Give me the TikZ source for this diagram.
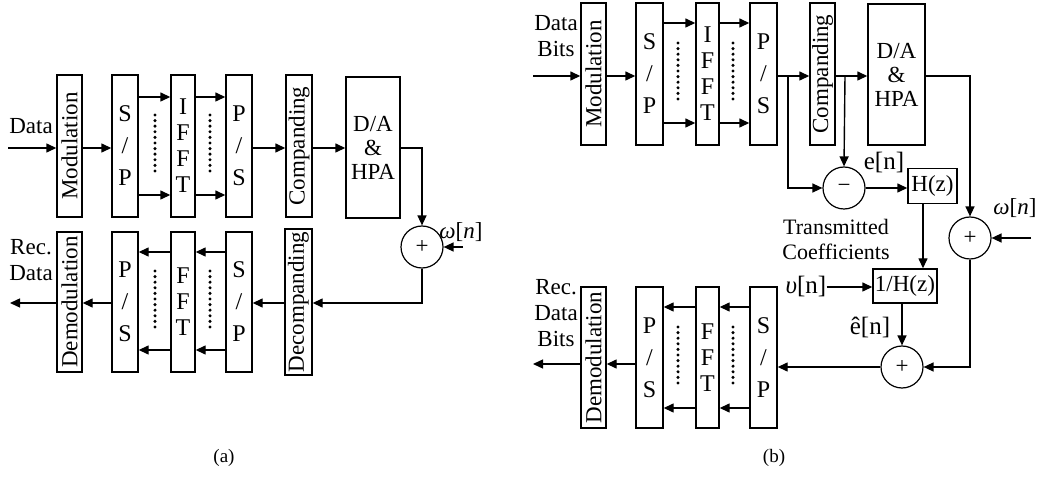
\documentclass[tikz,border=0pt]{standalone}
\usepackage{fontspec}
\setmainfont{Liberation Serif}
\usetikzlibrary{arrows.meta}
\begin{document}
\begin{tikzpicture}[x=1pt,y=-1pt,
  every node/.style={font=\fontsize{23}{26}\selectfont},
  blk/.style={draw,line width=1.4pt,inner sep=0pt,align=center},
  stk/.style={blk,font=\fontsize{24}{32}\selectfont},
  stk2/.style={blk,font=\fontsize{24}{26}\selectfont},
  sumc/.style={draw,circle,line width=1.2pt,minimum size=42pt,inner sep=0pt},
  lbl/.style={inner sep=0pt,align=center},
  arr/.style={line width=1.4pt,-{Triangle[length=10pt,width=9pt]}},
  ln/.style={line width=1.4pt}
]
\useasboundingbox (0,0) rectangle (1042,478);
% ================= panel (a) =================
\node[blk,minimum width=25pt,minimum height=142pt] (amod) at (69.5,146) {\rotatebox{90}{Modulation}};
\node[stk,minimum width=26pt,minimum height=142pt] (asp) at (125,146) {S\\/\\P};
\node[stk2,minimum width=24pt,minimum height=142pt] (aifft) at (183,146) {I\\F\\F\\T};
\node[stk,minimum width=26pt,minimum height=142pt] (aps) at (239,146) {P\\/\\S};
\node[blk,minimum width=26pt,minimum height=142pt] (acomp) at (299,146) {\rotatebox{90}{Companding}};
\node[blk,font=\fontsize{23}{24}\selectfont,minimum width=54pt,minimum height=141pt] (ada) at (373,147.5) {D/A\\\&\\HPA};
\node[sumc] (aplus) at (422,247) {+};
\node[blk,minimum width=27pt,minimum height=146pt] (adecomp) at (298.5,302) {\rotatebox{90}{Decompanding}};
\node[stk,minimum width=26pt,minimum height=140pt] (asp2) at (239,302) {S\\/\\P};
\node[stk2,minimum width=24pt,minimum height=140pt] (afft) at (183,302) {F\\F\\T};
\node[stk,minimum width=26pt,minimum height=140pt] (aps2) at (125,302) {P\\/\\S};
\node[blk,minimum width=25pt,minimum height=140pt] (ademod) at (69.5,302) {\rotatebox{90}{Demodulation}};
\node[lbl] (adata) at (31,126) {Data};
\node[lbl] (arec) at (31,260) {Rec.\\Data};
\node[lbl] (aw) at (461,232) {\textit{ω}[\textit{n}]};
\node[lbl,font=\fontsize{19}{22}\selectfont] (acap) at (224,458) {(a)};
\coordinate (ain) at (8,148);
\coordinate (aout) at (10,303);
\coordinate (awin) at (463,247);
\coordinate (acorner) at (422,148);
\draw[arr] (ain) -- (amod.west |- ain);
\draw[arr] (amod.east |- ain) -- (asp.west |- ain);
\draw[arr] (asp.east |- 0,97) -- (aifft.west |- 0,97);
\draw[arr] (asp.east |- 0,195) -- (aifft.west |- 0,195);
\draw[arr] (aifft.east |- 0,97) -- (aps.west |- 0,97);
\draw[arr] (aifft.east |- 0,195) -- (aps.west |- 0,195);
\draw[arr] (aps.east |- ain) -- (acomp.west |- ain);
\draw[arr] (acomp.east |- ain) -- (ada.west |- ain);
\draw[arr] (ada.east |- ain) -- (acorner) -- (aplus.north);
\draw[arr] (awin) -- (aplus.east);
\draw[arr] (aplus.south) |- (adecomp.east |- aout);
\draw[arr] (adecomp.west |- aout) -- (asp2.east |- aout);
\draw[arr] (asp2.west |- 0,252) -- (afft.east |- 0,252);
\draw[arr] (asp2.west |- 0,350) -- (afft.east |- 0,350);
\draw[arr] (afft.west |- 0,252) -- (aps2.east |- 0,252);
\draw[arr] (afft.west |- 0,350) -- (aps2.east |- 0,350);
\draw[arr] (aps2.west |- aout) -- (ademod.east |- aout);
\draw[arr] (ademod.west |- aout) -- (aout);
\foreach \x/\y in {155/115,210/115,155/271,210/271,678/43,733/43,678/327,733/327}
  \foreach \k in {0,...,10}
    \fill (\x,\y+5.6*\k) circle (1.7pt);
% ================= panel (b) =================
\node[blk,minimum width=25pt,minimum height=142pt] (bmod) at (593.5,74) {\rotatebox{90}{Modulation}};
\node[stk,minimum width=27pt,minimum height=142pt] (bsp) at (649.5,74) {S\\/\\P};
\node[stk2,minimum width=23pt,minimum height=142pt] (bifft) at (707.5,74) {I\\F\\F\\T};
\node[stk,minimum width=27pt,minimum height=142pt] (bps) at (763.5,74) {P\\/\\S};
\node[blk,minimum width=25pt,minimum height=142pt] (bcomp) at (822.5,74) {\rotatebox{90}{Companding}};
\node[blk,font=\fontsize{23}{24}\selectfont,minimum width=57pt,minimum height=141pt] (bda) at (896.5,74.5) {D/A\\\&\\HPA};
\node[sumc] (bminus) at (844,188) {−};
\node[blk,minimum width=49pt,minimum height=35pt] (bhz) at (932.5,186) {H(z)};
\node[blk,minimum width=64pt,minimum height=34pt] (bihz) at (905,286) {1/H(z)};
\node[sumc] (bplusr) at (970,238) {+};
\node[sumc] (bplusb) at (902,367) {+};
\node[stk,minimum width=27pt,minimum height=141pt] (bsp2) at (763.5,357.5) {S\\/\\P};
\node[stk2,minimum width=23pt,minimum height=141pt] (bfft) at (707.5,357.5) {F\\F\\T};
\node[stk,minimum width=27pt,minimum height=141pt] (bps2) at (649.5,357.5) {P\\/\\S};
\node[blk,minimum width=25pt,minimum height=141pt] (bdemod) at (593.5,357.5) {\rotatebox{90}{Demodulation}};
\node[lbl] (bdata) at (556,36) {Data\\Bits};
\node[lbl] (brec) at (556,313) {Rec.\\Data\\Bits};
\node[lbl,font=\fontsize{25}{26}\selectfont] (ben) at (884,163) {e[n]};
\node[lbl,font=\fontsize{22}{25}\selectfont] (btc) at (836,239) {Transmitted\\Coefficients};
\node[lbl,font=\fontsize{25}{26}\selectfont] (bvn) at (806,287) {\textit{υ}[n]};
\node[lbl,font=\fontsize{25}{26}\selectfont] (behat) at (870,327) {ê[n]};
\node[lbl] (bw) at (1015,208) {\textit{ω}[\textit{n}]};
\node[lbl,font=\fontsize{19}{22}\selectfont] (bcap) at (774,458) {(b)};
\coordinate (bin) at (533,76);
\coordinate (bout) at (533,364);
\coordinate (bbr1) at (788,76);
\coordinate (bbr2) at (845,76);
\coordinate (bcorner) at (970,76);
\coordinate (bwin) at (1031,238);
\draw[arr] (bin) -- (bmod.west |- bin);
\draw[arr] (bmod.east |- bin) -- (bsp.west |- bin);
\draw[arr] (bsp.east |- 0,23) -- (bifft.west |- 0,23);
\draw[arr] (bsp.east |- 0,123) -- (bifft.west |- 0,123);
\draw[arr] (bifft.east |- 0,23) -- (bps.west |- 0,23);
\draw[arr] (bifft.east |- 0,123) -- (bps.west |- 0,123);
\draw[arr] (bps.east |- bin) -- (bcomp.west |- bin);
\draw[arr] (bbr1) |- (bminus.west);
\draw[arr] (bcomp.east |- bin) -- (bda.west |- bin);
\draw[arr] (bbr2) -- (bminus.north);
\draw[arr] (bda.east |- bin) -- (bcorner) -- (bplusr.north);
\draw[arr] (bminus.east) -- (bhz.west |- bminus.east);
\draw[arr] (bhz.south -| 923,0) -- (bihz.north -| 923,0);
\draw[arr] (bvn.east) -- (bihz.west |- bvn.east);
\draw[arr] (bihz.south -| bplusb.north) -- (bplusb.north);
\draw[arr] (bwin) -- (bplusr.east);
\draw[arr] (bplusr.south) |- (bplusb.east);
\draw[arr] (bplusb.west) -- (bsp2.east |- bplusb.west);
\draw[arr] (bsp2.west |- 0,307) -- (bfft.east |- 0,307);
\draw[arr] (bsp2.west |- 0,408) -- (bfft.east |- 0,408);
\draw[arr] (bfft.west |- 0,307) -- (bps2.east |- 0,307);
\draw[arr] (bfft.west |- 0,408) -- (bps2.east |- 0,408);
\draw[arr] (bps2.west |- bout) -- (bdemod.east |- bout);
\draw[arr] (bdemod.west |- bout) -- (bout);
\end{tikzpicture}
\end{document}
